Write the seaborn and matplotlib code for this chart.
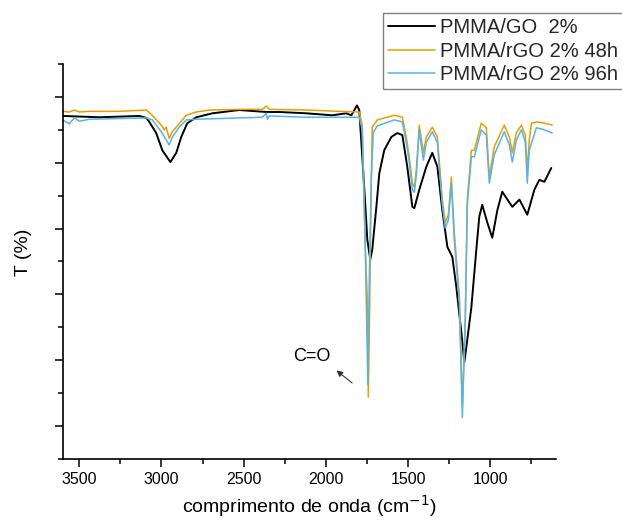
import numpy as np
import pandas as pd
import seaborn as sns
import matplotlib.pyplot as plt
from matplotlib.ticker import MultipleLocator, NullFormatter

# valores (numero de onda cm-1, T %)
go_wn = [3600, 3378, 3135, 3092, 3074, 3032, 2995, 2946, 2910, 2880, 2843, 2788, 2691, 2527,
         2362, 2283, 2119, 1961, 1876, 1845, 1811, 1797, 1785, 1766, 1748, 1730, 1718, 1693,
         1675, 1645, 1602, 1566, 1535, 1505, 1474, 1462, 1432, 1389, 1353, 1322, 1292, 1261,
         1231, 1207, 1176, 1158, 1140, 1115, 1085, 1067, 1049, 1018, 988, 957, 927, 896, 866,
         823, 775, 732, 702, 671, 629]
go_t = [57.1, 56.9, 57.1, 56.8, 56.2, 54.5, 51.9, 50.1, 51.5, 53.9, 56.0, 56.9, 57.5, 58.0,
        57.7, 57.7, 57.5, 57.2, 57.5, 57.2, 58.7, 58.0, 53.4, 45.9, 38.3, 35.3, 36.8, 43.3,
        48.4, 51.9, 53.9, 54.5, 54.2, 49.4, 43.3, 43.1, 45.9, 49.4, 51.5, 49.4, 42.8, 37.2,
        35.7, 31.2, 24.2, 19.7, 23.1, 28.1, 36.8, 41.8, 43.6, 40.9, 38.6, 42.8, 45.6, 44.4, 43.3,
        44.4, 42.1, 45.9, 47.4, 47.1, 49.2]

rgo48_wn = [3600, 3561, 3530, 3500, 3439, 3257, 3092, 3056, 3001, 2983, 2971, 2953, 2934, 2910,
            2873, 2849, 2788, 2709, 2527, 2387, 2362, 2344, 2119, 1918, 1797, 1779, 1760, 1748,
            1742, 1733, 1724, 1718, 1687, 1584, 1535, 1511, 1493, 1474, 1462, 1450, 1432, 1407,
            1389, 1353, 1322, 1292, 1274, 1255, 1237, 1219, 1201, 1188, 1170, 1152, 1140, 1115,
            1097, 1055, 1024, 1006, 976, 915, 884, 866, 842, 811, 787, 775, 763, 750, 714, 671, 623]
rgo48_t = [57.8, 57.7, 58.0, 57.7, 57.8, 57.8, 58.0, 57.2, 55.7, 55.0, 55.4, 53.7, 54.7, 55.4,
           56.5, 57.2, 57.7, 58.0, 58.1, 58.1, 58.6, 58.1, 58.0, 57.8, 57.7, 55.7, 36.8, 29.2,
           14.4, 29.2, 47.4, 55.4, 56.5, 57.2, 56.9, 53.9, 50.9, 46.9, 46.3, 48.9, 55.7, 51.5,
           53.9, 55.4, 53.9, 44.4, 40.9, 42.1, 47.8, 39.4, 33.7, 29.7, 13.0, 26.6, 44.4, 51.9,
           51.9, 56.0, 55.3, 47.8, 52.4, 55.7, 53.9, 51.5, 54.5, 55.7, 54.2, 48.6, 53.4, 56.0, 56.2, 56.0, 55.7]

rgo96_wn = [3600, 3561, 3530, 3500, 3439, 3092, 3056, 3001, 2977, 2953, 2934, 2892, 2849, 2788,
            2527, 2387, 2362, 2356, 2344, 2119, 1857, 1797, 1779, 1760, 1745, 1736, 1724, 1712,
            1687, 1584, 1535, 1511, 1493, 1474, 1462, 1450, 1432, 1407, 1389, 1353, 1322, 1292,
            1274, 1255, 1237, 1219, 1201, 1188, 1170, 1152, 1140, 1115, 1097, 1055, 1024, 1006,
            976, 915, 884, 866, 842, 811, 787, 775, 763, 720, 671, 623]
rgo96_t = [56.5, 55.9, 56.8, 56.3, 56.6, 56.8, 56.5, 54.7, 53.7, 52.7, 53.9, 55.4, 56.5, 56.6,
           56.8, 56.9, 57.5, 56.6, 57.1, 56.9, 56.9, 56.9, 55.0, 36.8, 16.3, 32.2, 47.4, 54.6,
           55.6, 56.5, 56.2, 53.1, 50.1, 45.9, 45.5, 48.1, 55.0, 50.4, 53.1, 54.7, 53.1, 43.6,
           40.1, 41.3, 46.9, 38.3, 32.7, 28.7, 11.3, 26.2, 43.6, 50.9, 50.9, 55.0, 54.2, 46.9,
           51.2, 54.7, 52.7, 50.1, 53.4, 55.0, 53.1, 46.9, 51.9, 55.3, 55.0, 54.5]

labels = ['PMMA/GO  2%', 'PMMA/rGO 2% 48h', 'PMMA/rGO 2% 96h']
colors = ['#000000', '#E69F00', '#56B4E9']

sns.set_theme(style='ticks')
plt.rcParams['font.family'] = ['Liberation Sans', 'DejaVu Sans']

fig = plt.figure(figsize=(6.22, 5.24), dpi=100)
ax = fig.add_axes([0.101, 0.124, 0.793, 0.754])

series = [(go_wn, go_t), (rgo48_wn, rgo48_t), (rgo96_wn, rgo96_t)]
widths = [1.4, 1.1, 1.1]
for (wn, t), lab, c, lw in zip(series, labels, colors, widths):
    df = pd.DataFrame({'wn': wn, 't': t})
    sns.lineplot(data=df, x='wn', y='t', ax=ax, color=c, lw=lw, label=lab,
                 estimator=None, sort=False)

ax.set_xlim(3600, 600)
ax.set_ylim(5, 65)
ax.xaxis.set_major_locator(MultipleLocator(500))
ax.xaxis.set_minor_locator(MultipleLocator(250))
ax.yaxis.set_major_locator(MultipleLocator(10))
ax.yaxis.set_minor_locator(MultipleLocator(5))
ax.yaxis.set_major_formatter(NullFormatter())
ax.tick_params(which='major', direction='out', length=6, width=1.1, color='black',
               labelsize=11.5, labelcolor='black')
ax.tick_params(which='minor', direction='out', length=3.5, width=1.1, color='black')
sns.despine(ax=ax)
for s in ['left', 'bottom']:
    ax.spines[s].set_color('black')
    ax.spines[s].set_linewidth(1.2)

ax.set_xlabel('comprimento de onda (cm$^{-1}$)', fontsize=14, color='black')
ax.set_ylabel('T (%)', fontsize=14, color='black')
ax.yaxis.set_label_coords(-0.062, 0.524)

ax.text(2083, 20.6, 'C=O', fontsize=13, ha='center', va='center', color='black')
ax.annotate('', xy=(1949, 18.7), xytext=(1827, 16.3),
            arrowprops=dict(arrowstyle='-|>', color='#333333', lw=0.8, mutation_scale=9))

handles, labs = ax.get_legend_handles_labels()
ax.get_legend().remove()
leg = fig.legend(handles, labs, loc='upper left', bbox_to_anchor=(0.616, 0.975),
                 fontsize=14.5, frameon=True, fancybox=False, framealpha=1,
                 edgecolor='#808080', handlelength=2.3, handletextpad=0.25,
                 borderpad=0.25, labelspacing=0.22, borderaxespad=0)
leg.get_frame().set_linewidth(1.0)

fig.savefig('out.png', dpi=100)
